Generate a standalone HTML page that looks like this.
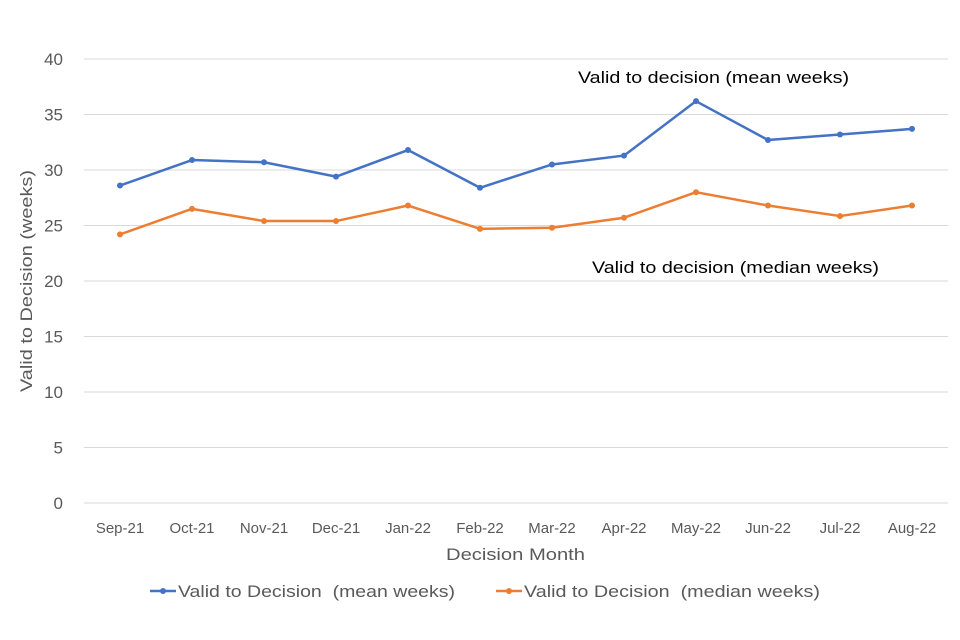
<!DOCTYPE html>
<html><head><meta charset="utf-8">
<style>
html,body{margin:0;padding:0;background:#fff;}
svg{display:block;font-family:"Liberation Sans",sans-serif;}
</style></head>
<body>
<svg id="chart" width="960" height="640" viewBox="0 0 960 640" xmlns="http://www.w3.org/2000/svg">
<g id="grid"></g>
<g id="yticks"></g>
<g id="xticks"></g>
<g id="series"></g>
<text transform="translate(32,281) rotate(-90)" text-anchor="middle" font-size="17" fill="#595959" textLength="222" lengthAdjust="spacingAndGlyphs">Valid to Decision (weeks)</text>
<text x="446" y="560" font-size="17" fill="#595959" textLength="139" lengthAdjust="spacingAndGlyphs">Decision Month</text>
<text x="578" y="83" font-size="17" fill="#000" textLength="271" lengthAdjust="spacingAndGlyphs">Valid to decision (mean weeks)</text>
<text x="592" y="273" font-size="17" fill="#000" textLength="287" lengthAdjust="spacingAndGlyphs">Valid to decision (median weeks)</text>
<g>
<g>
<line x1="150" y1="591" x2="176" y2="591" stroke="#4472C4" stroke-width="2.5"/>
<circle cx="163" cy="591" r="3" fill="#4472C4"/>
<text x="178" y="597" font-size="17" fill="#595959" xml:space="preserve" textLength="277" lengthAdjust="spacingAndGlyphs">Valid to Decision  (mean weeks)</text>
</g>
<g>
<line x1="496" y1="591" x2="522" y2="591" stroke="#ED7D31" stroke-width="2.5"/>
<circle cx="509" cy="591" r="3" fill="#ED7D31"/>
<text x="524" y="597" font-size="17" fill="#595959" xml:space="preserve" textLength="296" lengthAdjust="spacingAndGlyphs">Valid to Decision  (median weeks)</text>
</g>
</g>
</svg>
<script>
const categories=["Sep-21","Oct-21","Nov-21","Dec-21","Jan-22","Feb-22","Mar-22","Apr-22","May-22","Jun-22","Jul-22","Aug-22"];
const meanWeeks=[28.6,30.9,30.7,29.4,31.8,28.4,30.5,31.3,36.2,32.7,33.2,33.7];
const medianWeeks=[24.2,26.5,25.4,25.4,26.8,24.7,24.8,25.7,28.0,26.8,25.85,26.8];
const yTicks=[0,5,10,15,20,25,30,35,40];
const NS="http://www.w3.org/2000/svg";
const x0=84,x1=948,yBottom=503,yTop=59,yMax=40;
const step=(x1-x0)/categories.length;
function xPos(i){return x0+step*(i+0.5);}
function yPos(v){return yBottom-(v/yMax)*(yBottom-yTop);}
function mk(tag,attrs,parent){const e=document.createElementNS(NS,tag);for(const k in attrs)e.setAttribute(k,attrs[k]);parent.appendChild(e);return e;}
const grid=document.getElementById('grid'),yt=document.getElementById('yticks'),xt=document.getElementById('xticks'),ser=document.getElementById('series');
yTicks.forEach(t=>{
  const l=mk('line',{x1:x0,x2:x1,y1:yPos(t),y2:yPos(t),stroke:'#d9d9d9','stroke-width':1},grid);
  
  
  const tx=mk('text',{x:63,y:yPos(t)+6,'text-anchor':'end','font-size':17,fill:'#595959'},yt);
  tx.textContent=t;
  
  
});
categories.forEach((c,i)=>{
  const tx=mk('text',{x:xPos(i),y:533,'text-anchor':'middle','font-size':15,fill:'#595959'},xt);
  tx.textContent=c;
  
  
});
function drawSeries(vals,color,name){
  const g=mk('g',{},ser);
  
  
  const p=mk('polyline',{points:vals.map((v,i)=>xPos(i)+','+yPos(v)).join(' '),fill:'none',stroke:color,'stroke-width':2.5,'stroke-linejoin':'round'},g);
  
  
  vals.forEach((v,i)=>{
    const c=mk('circle',{cx:xPos(i),cy:yPos(v),r:3,fill:color},g);
    
    
  });
}
drawSeries(meanWeeks,'#4472C4','mean');
drawSeries(medianWeeks,'#ED7D31','median');
</script>
</body></html>
